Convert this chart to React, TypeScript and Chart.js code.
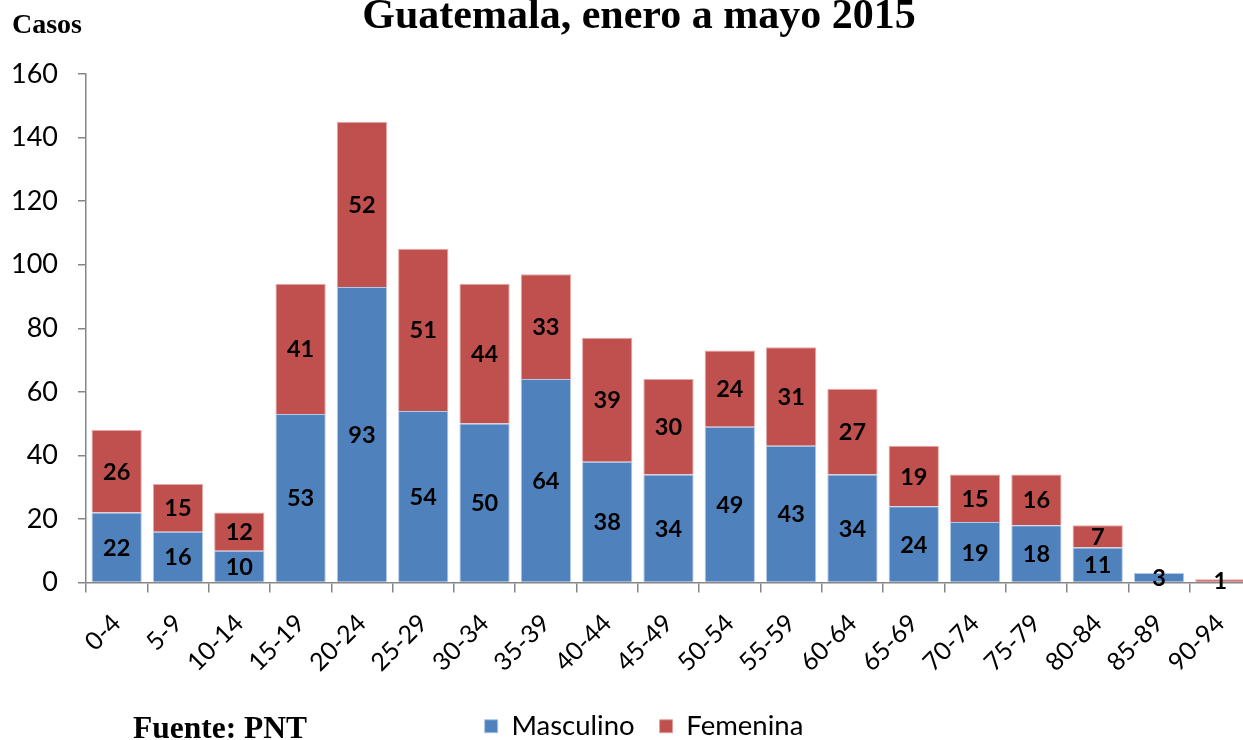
import React, { useEffect, useRef } from "react";
import { Chart, registerables } from "chart.js";

Chart.register(...registerables);

const categories = [
  "0-4", "5-9", "10-14", "15-19", "20-24", "25-29", "30-34", "35-39", "40-44",
  "45-49", "50-54", "55-59", "60-64", "65-69", "70-74", "75-79", "80-84", "85-89", "90-94",
];
const masculino = [22, 16, 10, 53, 93, 54, 50, 64, 38, 34, 49, 43, 34, 24, 19, 18, 11, 3, 0];
const femenina = [26, 15, 12, 41, 52, 51, 44, 33, 39, 30, 24, 31, 27, 19, 15, 16, 7, 0, 1];
const seriesNames = ["Masculino", "Femenina"];
const yMax = 160;
const yStep = 20;

const titleText = "Guatemala, enero a mayo 2015";
const yAxisTitle = "Casos";
const sourceText = "Fuente: PNT";

const BLUE = "#4F81BD";
const RED = "#C0504D";
const AXIS = "#868686";

const valueLabels = {
  id: "valueLabels",
  afterDatasetsDraw(chart: any) {
    const ctx = chart.ctx;
    ctx.save();
    ctx.font = "bold 23.5px Lato";
    ctx.fillStyle = "#000";
    ctx.textAlign = "center";
    ctx.textBaseline = "middle";
    chart.data.datasets.forEach((ds: any, di: number) => {
      const meta = chart.getDatasetMeta(di);
      meta.data.forEach((el: any, i: number) => {
        const v = ds.data[i];
        if (!v) return;
        const y = (el.y + el.base) / 2;
        ctx.fillText(String(v), el.x, y + 1);
      });
    });
    ctx.restore();
  },
};

export default function App() {
  const ref = useRef<HTMLCanvasElement | null>(null);

  useEffect(() => {
    if (!ref.current) return;
    const chart = new Chart(ref.current, {
      type: "bar",
      data: {
        labels: categories,
        datasets: [
          {
            label: seriesNames[0],
            data: masculino,
            backgroundColor: BLUE,
            borderColor: "rgba(170,195,230,0.9)",
            borderWidth: 1,
            categoryPercentage: 1,
            barPercentage: 0.82,
          },
          {
            label: seriesNames[1],
            data: femenina,
            backgroundColor: RED,
            borderColor: "rgba(225,160,158,0.9)",
            borderWidth: 1,
            categoryPercentage: 1,
            barPercentage: 0.82,
          },
        ],
      },
      options: {
        responsive: false,
        animation: false,
        devicePixelRatio: 1,
        layout: { padding: { left: 0, right: 0, top: 74, bottom: 0 } },
        plugins: {
          legend: {
            position: "bottom",
            labels: {
              boxWidth: 13,
              boxHeight: 13,
              padding: 25,
              color: "#000",
              font: { family: "Lato", size: 27.5 },
            },
          },
          tooltip: { enabled: false },
          title: { display: false },
        },
        scales: {
          x: {
            stacked: true,
            border: { display: true, color: AXIS, width: 1.5 },
            grid: {
              display: true,
              drawOnChartArea: false,
              drawTicks: true,
              tickLength: 10,
              color: AXIS,
              lineWidth: 1.5,
              offset: true,
            },
            ticks: {
              minRotation: 45,
              maxRotation: 45,
              autoSkip: false,
              padding: 16,
              color: "#000",
              font: { family: "Lato", size: 25 },
            },
            afterFit: (s: any) => {
              s.height = 105;
            },
          },
          y: {
            stacked: true,
            min: 0,
            max: yMax,
            border: { display: true, color: AXIS, width: 1.5 },
            grid: {
              display: true,
              drawOnChartArea: false,
              drawTicks: true,
              tickLength: 8,
              color: AXIS,
              lineWidth: 1.5,
            },
            ticks: {
              stepSize: yStep,
              padding: 20,
              color: "#000",
              font: { family: "Lato", size: 27 },
            },
            afterFit: (s: any) => {
              s.width = 86;
            },
          },
          yRight: {
            position: "right",
            display: true,
            grid: { display: false, drawTicks: false },
            border: { display: false },
            ticks: { display: false },
            afterFit: (s: any) => {
              s.width = 37;
            },
          },
        },
      },
      plugins: [valueLabels],
    });
    return () => chart.destroy();
  }, []);

  const serif = "'Liberation Serif', 'Times New Roman', serif";
  return (
    <div
      style={{
        position: "absolute",
        left: 0,
        top: 0,
        width: 1243,
        height: 740,
        overflow: "hidden",
        background: "#fff",
      }}
    >
      <canvas
        ref={ref}
        width={1288}
        height={750}
        style={{ position: "absolute", left: 0, top: 0, width: 1288, height: 750 }}
      />
      <div
        style={{
          position: "absolute",
          left: 12,
          top: 10,
          fontFamily: serif,
          fontWeight: "bold",
          fontSize: 28,
          lineHeight: "28px",
          whiteSpace: "nowrap",
        }}
      >
        {yAxisTitle}
      </div>
      <div
        style={{
          position: "absolute",
          left: 639,
          top: -7,
          transform: "translateX(-50%)",
          fontFamily: serif,
          fontWeight: "bold",
          fontSize: 42,
          lineHeight: "42px",
          whiteSpace: "nowrap",
        }}
      >
        {titleText}
      </div>
      <div
        style={{
          position: "absolute",
          left: 133,
          top: 712,
          fontFamily: serif,
          fontWeight: "bold",
          fontSize: 31.5,
          lineHeight: "31.5px",
          whiteSpace: "nowrap",
        }}
      >
        {sourceText}
      </div>
    </div>
  );
}
